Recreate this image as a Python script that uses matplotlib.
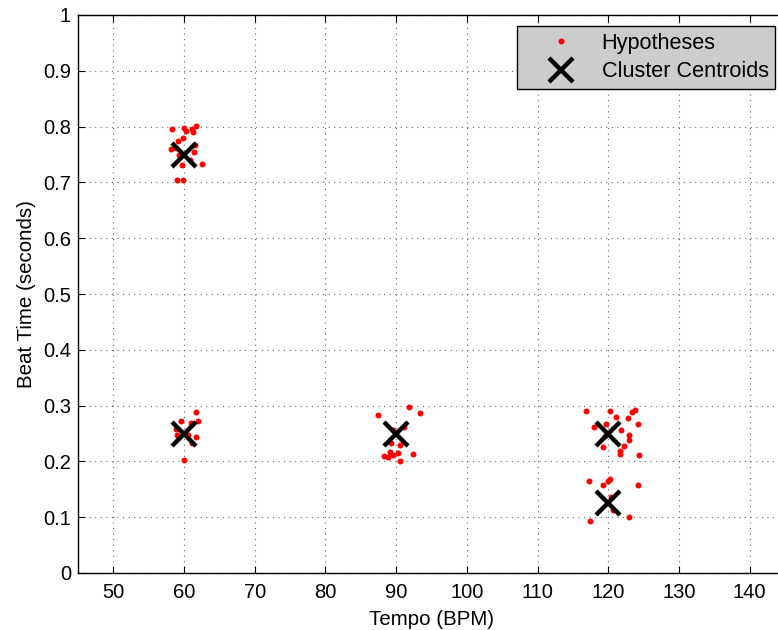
import matplotlib
matplotlib.use("Agg")
import matplotlib.pyplot as plt

plt.rcParams['font.family'] = ['Liberation Sans', 'DejaVu Sans']

# Hypotheses (tempo BPM, beat time s)
hyp_tempo = [58.25, 60.04, 60.28, 61.14, 61.7, 61.3, 59.1, 59.8, 58.2, 58.9, 61.6, 61.4,
             59.3, 60.85, 62.5, 59.7, 58.96, 59.9,
             61.7, 59.5, 62.0, 60.95, 58.9, 58.96, 60.6, 61.7, 61.1, 60.0,
             91.8, 93.4, 87.5, 89.5, 91.1, 89.3, 90.5, 89.1, 90.3, 92.4, 88.35, 88.9, 89.5, 90.6,
             116.9, 120.3, 121.1, 123.3, 123.8, 122.8, 124.2, 118.0, 119.7, 121.8, 119.6, 123.0,
             122.9, 122.2, 119.3, 121.7, 121.6, 124.3,
             117.3, 119.2, 119.9, 120.3, 124.2, 120.4, 120.7, 123.0, 117.4]
hyp_beat = [0.7955, 0.797, 0.792, 0.7955, 0.801, 0.791, 0.775, 0.779, 0.760, 0.762, 0.767, 0.755,
            0.749, 0.740, 0.7325, 0.731, 0.7045, 0.7045,
            0.289, 0.273, 0.2716, 0.268, 0.258, 0.248, 0.248, 0.244, 0.233, 0.202,
            0.298, 0.286, 0.283, 0.257, 0.262, 0.233, 0.230, 0.217, 0.215, 0.214, 0.209, 0.207, 0.211, 0.2014,
            0.291, 0.2896, 0.279, 0.289, 0.292, 0.277, 0.2675, 0.261, 0.2675, 0.2566, 0.245, 0.247,
            0.239, 0.228, 0.2254, 0.219, 0.214, 0.212,
            0.164, 0.157, 0.164, 0.1685, 0.158, 0.137, 0.113, 0.1007, 0.094]

cent_tempo = [60, 60, 90, 120, 120]
cent_beat = [0.75, 0.25, 0.25, 0.25, 0.125]

x_ticks = [50, 60, 70, 80, 90, 100, 110, 120, 130, 140]
y_ticks = [0, 0.1, 0.2, 0.3, 0.4, 0.5, 0.6, 0.7, 0.8, 0.9, 1]
y_labels = ['0', '0.1', '0.2', '0.3', '0.4', '0.5', '0.6', '0.7', '0.8', '0.9', '1']

W, H = 778, 630
fig = plt.figure(figsize=(W/100, H/100), dpi=100)
ax_left, ax_right, ax_top, ax_bottom = 78, 785, 15, 573
ax = fig.add_axes([ax_left/W, (H-ax_bottom)/H, (ax_right-ax_left)/W, (ax_bottom-ax_top)/H])

ax.plot(hyp_tempo, hyp_beat, linestyle='none', marker='o', color='red',
        markersize=4.3, markeredgewidth=0, label='Hypotheses', zorder=3)
ax.plot(cent_tempo, cent_beat, linestyle='none', marker='x', color='black',
        markersize=17, markeredgewidth=3.2, label='Cluster Centroids', zorder=4)

ax.set_xlim(45, 145)
ax.set_ylim(0, 1)
ax.set_xticks(x_ticks)
ax.set_yticks(y_ticks)
ax.set_yticklabels(y_labels)
ax.tick_params(direction='in', length=5, labelsize=14.5, pad=5, top=True, right=True)
ax.tick_params(axis='x', pad=7)
ax.grid(True, linestyle=(0, (1, 4)), color='#666666', linewidth=0.8)
ax.set_axisbelow(True)
for s in ax.spines.values():
    s.set_linewidth(1.0)

ax.set_xlabel('Tempo (BPM)', fontsize=14.8, labelpad=6)
ax.set_ylabel('Beat Time (seconds)', fontsize=14.8, labelpad=5)

ax_w = ax_right - ax_left
ax_h = ax_bottom - ax_top
leg = ax.legend(loc='upper right', bbox_to_anchor=((775-ax_left)/ax_w, (ax_bottom-26)/ax_h),
                fontsize=15.6, frameon=True, fancybox=False, framealpha=1,
                edgecolor='black', facecolor='#cccccc', borderpad=0.3,
                handletextpad=0.12, labelspacing=0.36, handlelength=3.5,
                borderaxespad=0)
leg.get_frame().set_linewidth(1.0)

fig.savefig('out.png', dpi=100)
